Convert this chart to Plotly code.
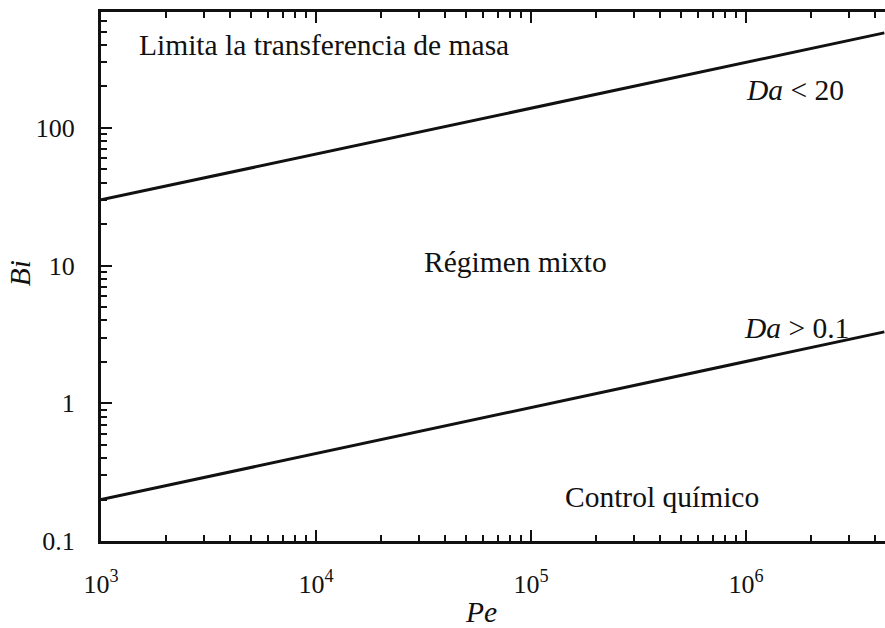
import plotly.graph_objects as go

# Péclet range covered by the two regime boundaries
pe = [1e3, 4.4e6]
# Boundary Bi values at the two ends of the Péclet range
bi_da_20 = [30, 490]     # upper boundary (Da < 20)
bi_da_01 = [0.2, 3.3]    # lower boundary (Da > 0.1)

x_tickvals = [1e3, 1e4, 1e5, 1e6]
x_ticktext = ["10<sup>3</sup>", "10<sup>4</sup>", "10<sup>5</sup>", "10<sup>6</sup>"]
y_tickvals = [0.1, 1, 10, 100]
y_ticktext = ["0.1", "1", "10", "100"]

# Region labels: (log10 Pe, log10 Bi, text)
region_labels = [
    (4.037, 2.602, "Limita la transferencia de masa"),
    (6.228, 2.275, "<i>Da</i> < 20"),
    (4.930, 1.026, "Régimen mixto"),
    (6.233, 0.547, "<i>Da</i> > 0.1"),
    (5.607, -0.680, "Control químico"),
]

FONT = "Liberation Serif"
BLACK = "#111111"
TICK_FS = 26
TEXT_FS = 29.5

fig = go.Figure()
for bi in (bi_da_20, bi_da_01):
    fig.add_trace(go.Scatter(x=pe, y=bi, mode="lines",
                             line=dict(color=BLACK, width=3),
                             showlegend=False, hoverinfo="skip"))

for x, y, t in region_labels:
    fig.add_annotation(x=x, y=y, xref="x", yref="y", text=t, showarrow=False,
                       font=dict(family=FONT, size=TEXT_FS, color=BLACK),
                       xanchor="center", yanchor="middle")

# Axis titles
fig.add_annotation(x=-0.104, y=0.507, xref="paper", yref="paper", text="<i>Bi</i>",
                   textangle=-90, showarrow=False,
                   font=dict(family=FONT, size=TEXT_FS, color=BLACK),
                   xanchor="center", yanchor="middle")
fig.add_annotation(x=0.4847, y=-0.134, xref="paper", yref="paper", text="<i>Pe</i>",
                   showarrow=False, font=dict(family=FONT, size=TEXT_FS, color=BLACK),
                   xanchor="center", yanchor="middle")

fig.update_xaxes(
    type="log", range=[3, 3 + 784 / 215],
    tickvals=x_tickvals, ticktext=x_ticktext,
    ticks="inside", ticklen=11, tickwidth=2, tickcolor=BLACK,
    minor=dict(ticks="inside", ticklen=6, tickwidth=2, tickcolor=BLACK, dtick="D1"),
    showline=True, linewidth=3, linecolor=BLACK, mirror="ticks",
    showgrid=False, zeroline=False,
    tickfont=dict(family=FONT, size=TICK_FS, color=BLACK),
    ticklabelstandoff=18,
)
fig.update_yaxes(
    type="log", range=[-1, -1 + 529 / 137.7],
    tickvals=y_tickvals, ticktext=y_ticktext,
    ticks="inside", ticklen=11, tickwidth=2, tickcolor=BLACK,
    minor=dict(ticks="inside", ticklen=6, tickwidth=2, tickcolor=BLACK, dtick="D1"),
    showline=True, linewidth=3, linecolor=BLACK, mirror=False,
    showgrid=False, zeroline=False,
    tickfont=dict(family=FONT, size=TICK_FS, color=BLACK),
    ticklabelstandoff=18,
)

fig.update_layout(
    width=885, height=628,
    margin=dict(l=101, r=0, t=12, b=87),
    paper_bgcolor="white", plot_bgcolor="white",
)

fig.write_html("out.html")
